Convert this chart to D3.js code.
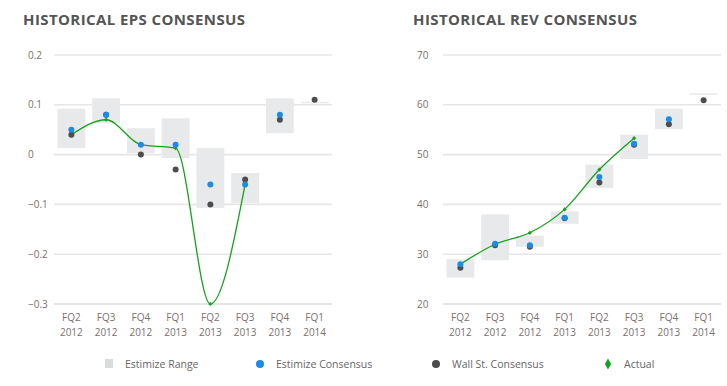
<!DOCTYPE html>
<html>
<head>
<meta charset="utf-8">
<script src="https://cdnjs.cloudflare.com/ajax/libs/d3/7.8.5/d3.min.js"></script>
<style>
  body { margin: 0; background: #fff; }
  svg { display: block; font-family: "Open Sans", sans-serif; }
</style>
</head>
<body>
<div id="chart"></div>
<script>
const quarters = ["FQ2", "FQ3", "FQ4", "FQ1", "FQ2", "FQ3", "FQ4", "FQ1"];
const years = ["2012", "2012", "2012", "2013", "2013", "2013", "2013", "2014"];

const epsTicks = [0.2, 0.1, 0, -0.1, -0.2, -0.3];
const epsRangeLow = [0.013, 0.063, 0.003, -0.007, -0.107, -0.097, 0.043, 0.103];
const epsRangeHigh = [0.092, 0.113, 0.053, 0.073, 0.013, -0.037, 0.113, 0.106];
const epsEstimize = [0.05, 0.08, 0.02, 0.02, -0.06, -0.06, 0.08, null];
const epsWallSt = [0.04, 0.08, 0.00, -0.03, -0.10, -0.05, 0.07, 0.11];
const epsActual = [0.04, 0.07, 0.02, 0.013, -0.30, -0.06, null, null];

const revTicks = [70, 60, 50, 40, 30, 20];
const revRangeLow = [25.3, 28.8, 31.5, 36.1, 43.3, 49.1, 55.1, 62.0];
const revRangeHigh = [29.0, 38.0, 33.7, 38.6, 48.0, 54.0, 59.2, 62.3];
const revEstimize = [28.0, 32.1, 31.8, 37.3, 45.5, 52.2, 57.1, null];
const revWallSt = [27.3, 31.8, 31.5, 37.2, 44.4, 52.0, 56.1, 60.9];
const revActual = [28.0, 32.0, 34.3, 39.0, 47.0, 53.3, null, null];

const legendItems = ["Estimize Range", "Estimize Consensus", "Wall St. Consensus", "Actual"];

const colors = {
  range: '#e8e9ea',
  estimize: '#1a8be6',
  wallSt: '#4d4d4d',
  actual: '#17a11c',
  grid: '#e6e6e6',
  tick: '#7a706c',
  title: '#555555',
  legend: '#666666'
};

const svg = d3.select('#chart')
  .append('svg')
  .attr('width', 727)
  .attr('height', 386);

function drawPanel(opts) {
  const g = svg.append('g');

  const x = d3.scalePoint()
    .domain(d3.range(quarters.length))
    .range([opts.left, opts.right])
    .padding(0.5);
  const boxW = x.step() * 0.8;

  const y = d3.scaleLinear()
    .domain([d3.min(opts.ticks), d3.max(opts.ticks)])
    .range([304, 55]);

  g.append('text')
    .attr('x', opts.titleX)
    .attr('y', 25)
    .attr('fill', colors.title)
    .style('font-size', '15px')
    .style('font-weight', 700)
    .style('letter-spacing', '0.4px')
    .text(opts.title);

  // grid lines
  g.selectAll('line.grid')
    .data(opts.ticks)
    .enter()
    .append('line')
    .attr('x1', opts.left)
    .attr('x2', opts.right)
    .attr('y1', d => y(d))
    .attr('y2', d => y(d))
    .attr('stroke', (d, i) => i === opts.ticks.length - 1 ? '#dcdcdc' : colors.grid)
    .attr('stroke-width', 1.6);

  g.selectAll('text.ytick')
    .data(opts.ticks)
    .enter()
    .append('text')
    .attr('x', opts.labelX)
    .attr('y', d => y(d))
    .attr('dy', '0.35em')
    .attr('fill', colors.tick)
    .style('font-size', '10px')
    .text(d => d3.format('~g')(d));

  const xl = g.selectAll('text.xtick')
    .data(quarters)
    .enter()
    .append('text')
    .attr('text-anchor', 'middle')
    .attr('fill', colors.tick)
    .style('font-size', '10px');
  xl.append('tspan')
    .attr('x', (d, i) => x(i))
    .attr('y', 321)
    .text(d => d);
  xl.append('tspan')
    .attr('x', (d, i) => x(i))
    .attr('y', 336)
    .text((d, i) => years[i]);

  // estimize range boxes
  g.selectAll('rect.range')
    .data(opts.low)
    .enter()
    .append('rect')
    .attr('x', (d, i) => x(i) - boxW / 2)
    .attr('width', boxW)
    .attr('y', (d, i) => y(opts.high[i]))
    .attr('height', (d, i) => Math.max(1.5, y(d) - y(opts.high[i])))
    .attr('fill', colors.range);

  // actual line
  const actual = opts.actual.map((v, i) => [i, v]).filter(d => d[1] != null);
  const line = d3.line()
    .x(d => x(d[0]))
    .y(d => y(d[1]))
    .curve(d3.curveMonotoneX);

  g.append('path')
    .datum(actual)
    .attr('d', line)
    .attr('fill', 'none')
    .attr('stroke', colors.actual)
    .attr('stroke-width', 1.3);

  g.selectAll('path.diamond')
    .data(actual)
    .enter()
    .append('path')
    .attr('d', d3.symbol(d3.symbolSquare, 9))
    .attr('transform', d => `translate(${x(d[0])},${y(d[1])}) rotate(45)`)
    .attr('fill', colors.actual);

  const dots = (vals, color) => {
    g.selectAll(null)
      .data(vals.map((v, i) => [i, v]).filter(d => d[1] != null))
      .enter()
      .append('circle')
      .attr('cx', d => x(d[0]))
      .attr('cy', d => y(d[1]))
      .attr('r', 3)
      .attr('fill', color);
  };
  dots(opts.wallSt, colors.wallSt);
  dots(opts.estimize, colors.estimize);
}

drawPanel({
  title: 'HISTORICAL EPS CONSENSUS', titleX: 23, labelX: 28,
  left: 54, right: 332, ticks: epsTicks,
  low: epsRangeLow, high: epsRangeHigh,
  estimize: epsEstimize, wallSt: epsWallSt, actual: epsActual
});

drawPanel({
  title: 'HISTORICAL REV CONSENSUS', titleX: 413, labelX: 417,
  left: 443, right: 721, ticks: revTicks,
  low: revRangeLow, high: revRangeHigh,
  estimize: revEstimize, wallSt: revWallSt, actual: revActual
});

// legend
const legendX = [105, 256, 432, 604];
const legend = svg.append('g');
legendItems.forEach((name, i) => {
  const lx = legendX[i];
  if (i === 0) {
    legend.append('rect')
      .attr('x', lx).attr('y', 359).attr('width', 8).attr('height', 9)
      .attr('fill', '#d9dadc');
  } else if (i === 3) {
    legend.append('path')
      .attr('d', d3.symbol(d3.symbolDiamond, 34))
      .attr('transform', `translate(${lx + 4},364)`)
      .attr('fill', colors.actual);
  } else {
    legend.append('circle')
      .attr('cx', lx + 4).attr('cy', 364).attr('r', 4)
      .attr('fill', i === 1 ? colors.estimize : colors.wallSt);
  }
  legend.append('text')
    .attr('x', lx + 20)
    .attr('y', 364)
    .attr('dy', '0.35em')
    .attr('fill', colors.legend)
    .style('font-size', '10.5px')
    .text(name);
});
</script>
</body>
</html>
